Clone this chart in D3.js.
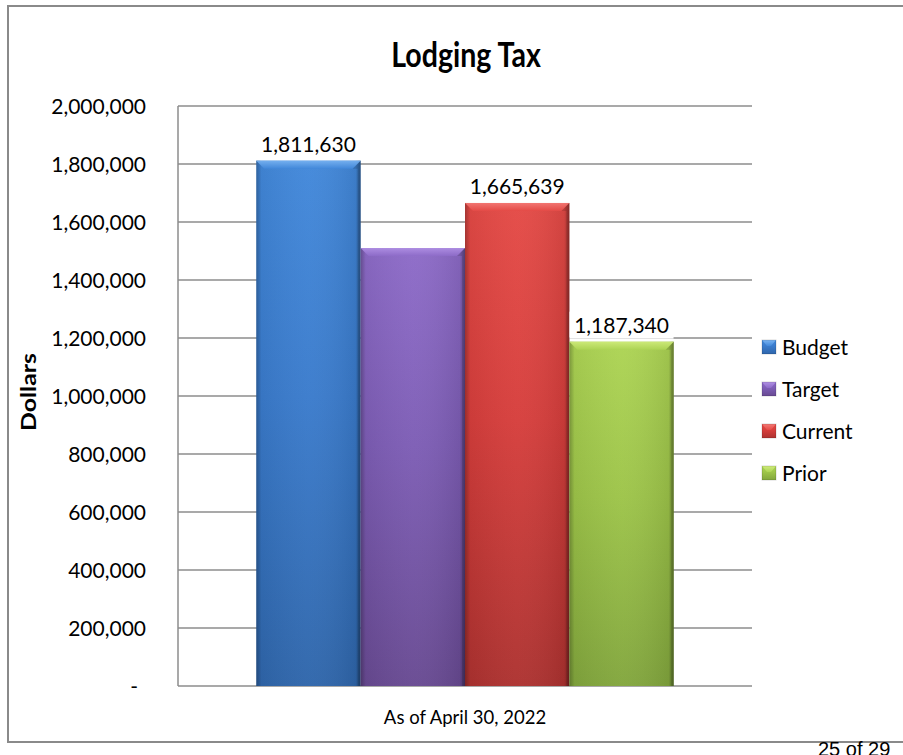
<!DOCTYPE html>
<html>
<head>
<meta charset="utf-8">
<script src="https://cdn.jsdelivr.net/npm/d3@7"></script>
<style>
  html, body { margin: 0; padding: 0; background: #fff; }
  svg { display: block; }
  text { font-family: Lato, "Open Sans", "Noto Sans", sans-serif; fill: #000; }
</style>
</head>
<body>
<svg id="chart" width="903" height="755"></svg>
<script>
// Lodging tax collections, as of April 30, 2022
const category = "As of April 30, 2022";
const seriesNames = ["Budget", "Target", "Current", "Prior"];
const seriesValues = [1811630, 1510000, 1665639, 1187340];
const showLabel = [true, false, true, true];
const yTicks = [0, 200000, 400000, 600000, 800000, 1000000, 1200000, 1400000, 1600000, 1800000, 2000000];

// fill tones for each series: highlight, top, middle, bottom
const palette = {
  Budget:  { hi: "#7ab4f2", top: "#4288da", mid: "#3a7bcc", bot: "#2f66ab" },
  Target:  { hi: "#b090e4", top: "#8d6bc8", mid: "#7d5db5", bot: "#684a92" },
  Current: { hi: "#f47a76", top: "#e44a46", mid: "#d63e3c", bot: "#ad3230" },
  Prior:   { hi: "#d0ec7c", top: "#add454", mid: "#9dc449", bot: "#82a63d" }
};

const svg = d3.select("#chart");
const defs = svg.append("defs");

const plot = { left: 178, right: 752, top: 106, bottom: 686 };

const y = d3.scaleLinear().domain([0, 2000000]).range([plot.bottom, plot.top]);
const x0 = d3.scaleBand().domain([category]).range([plot.left, plot.right])
  .paddingInner(0).paddingOuter(0.1875);
const x1 = d3.scaleBand().domain(seriesNames).range([0, x0.bandwidth()]).padding(0);

// gradients
seriesNames.forEach((s, i) => {
  const c = palette[s];
  const g = defs.append("linearGradient").attr("id", "v" + i)
    .attr("x1", 0).attr("y1", 0).attr("x2", 0).attr("y2", 1);
  g.append("stop").attr("offset", "0%").attr("stop-color", c.top);
  g.append("stop").attr("offset", "45%").attr("stop-color", c.mid);
  g.append("stop").attr("offset", "100%").attr("stop-color", c.bot);
  const h = defs.append("linearGradient").attr("id", "hi" + i)
    .attr("x1", 0).attr("y1", 0).attr("x2", 0).attr("y2", 1);
  h.append("stop").attr("offset", "0%").attr("stop-color", c.hi);
  h.append("stop").attr("offset", "100%").attr("stop-color", c.top);
});
const edge = defs.append("linearGradient").attr("id", "edge")
  .attr("x1", 0).attr("y1", 0).attr("x2", 1).attr("y2", 0);
edge.append("stop").attr("offset", "0%").attr("stop-color", "#000").attr("stop-opacity", 0.28);
edge.append("stop").attr("offset", "5%").attr("stop-color", "#000").attr("stop-opacity", 0.05);
edge.append("stop").attr("offset", "50%").attr("stop-color", "#fff").attr("stop-opacity", 0.03);
edge.append("stop").attr("offset", "95%").attr("stop-color", "#000").attr("stop-opacity", 0.08);
edge.append("stop").attr("offset", "100%").attr("stop-color", "#000").attr("stop-opacity", 0.35);

// outer chart border
svg.append("rect").attr("x", 8).attr("y", 6).attr("width", 920).attr("height", 736)
  .attr("fill", "none").attr("stroke", "#8a8a8a").attr("stroke-width", 2);

// title, slightly condensed
svg.append("text").attr("transform", "translate(466, 67) scale(0.84, 1)")
  .attr("text-anchor", "middle")
  .style("font-size", "34px").style("font-weight", "bold").text("Lodging Tax");

// gridlines
svg.append("g").selectAll("line").data(yTicks).join("line")
  .attr("x1", plot.left).attr("x2", plot.right)
  .attr("y1", d => y(d)).attr("y2", d => y(d))
  .attr("stroke", "#8c8c8c").attr("stroke-width", 1.3);

// vertical axis line
svg.append("line").attr("x1", plot.left).attr("x2", plot.left)
  .attr("y1", plot.top).attr("y2", plot.bottom)
  .attr("stroke", "#8c8c8c").attr("stroke-width", 1.5);

// y tick labels
const fmt = d3.format(",");
svg.append("g").selectAll("text").data(yTicks).join("text")
  .attr("x", d => d === 0 ? 138 : 146).attr("y", d => y(d)).attr("dy", "0.36em")
  .attr("text-anchor", "end").style("font-size", "21px")
  .text(d => d === 0 ? "-" : fmt(d));

// y axis title
svg.append("text").attr("transform", `translate(36, ${(plot.top + plot.bottom) / 2 - 4}) rotate(-90)`)
  .attr("text-anchor", "middle").style("font-size", "21px").style("font-weight", "bold")
  .attr("textLength", 78).attr("lengthAdjust", "spacingAndGlyphs")
  .text("Dollars");

// bars
const data = seriesNames.map((s, i) => ({ s, i, v: seriesValues[i], label: showLabel[i] }));
const bars = svg.append("g").attr("transform", `translate(${x0(category)},0)`);
const bar = bars.selectAll("g").data(data).join("g");
const bw = x1.bandwidth();
bar.append("rect")
  .attr("x", d => x1(d.s)).attr("y", d => y(d.v))
  .attr("width", bw).attr("height", d => y(0) - y(d.v))
  .attr("fill", d => `url(#v${d.i})`);
bar.append("rect")
  .attr("x", d => x1(d.s)).attr("y", d => y(d.v))
  .attr("width", bw).attr("height", d => y(0) - y(d.v))
  .attr("fill", "url(#edge)");
// bevelled top face
bar.append("path")
  .attr("d", d => {
    const xl = x1(d.s), xr = xl + bw, yt = y(d.v), b = 8;
    return `M${xl},${yt} L${xr},${yt} L${xr - b},${yt + b} L${xl + b},${yt + b} Z`;
  })
  .attr("fill", d => `url(#hi${d.i})`).attr("opacity", 0.9);
bar.append("path")
  .attr("d", d => {
    const xl = x1(d.s), xr = xl + bw, yt = y(d.v), b = 8;
    return `M${xr},${yt} L${xr},${y(0)} L${xr - 3},${y(0)} L${xr - 3},${yt + b} L${xr - b},${yt + b} Z`;
  })
  .attr("fill", "#000").attr("opacity", 0.12);

// value labels with white backing
const lab = bars.selectAll("g.lab").data(data.filter(d => d.label)).join("g").attr("class", "lab");
lab.append("rect")
  .attr("x", d => x1(d.s) + bw / 2 - 52).attr("y", d => y(d.v) - 30)
  .attr("width", 104).attr("height", 27).attr("fill", "#fff");
lab.append("text")
  .attr("x", d => x1(d.s) + bw / 2).attr("y", d => y(d.v) - 9)
  .attr("text-anchor", "middle").style("font-size", "21px")
  .text(d => fmt(d.v));

// category label
svg.append("text").attr("x", x0(category) + x0.bandwidth() / 2).attr("y", 724)
  .attr("text-anchor", "middle").style("font-size", "18.5px").text(category);

// legend
const leg = svg.append("g").selectAll("g").data(data).join("g")
  .attr("transform", (d, i) => `translate(762, ${347 + i * 42})`);
leg.append("rect").attr("x", 0).attr("y", -7).attr("width", 14).attr("height", 14)
  .attr("fill", d => `url(#v${d.i})`);
leg.append("path").attr("d", "M0,-7 L14,-7 L9,-1 L5,-1 Z")
  .attr("fill", d => `url(#hi${d.i})`);
leg.append("rect").attr("x", 0).attr("y", -7).attr("width", 14).attr("height", 14)
  .attr("fill", "none").attr("stroke", "#000").attr("stroke-opacity", 0.15);
leg.append("text").attr("x", 20).attr("y", 0).attr("dy", "0.36em")
  .style("font-size", "21px").text(d => d.s);

// page number
svg.append("text").attr("x", 818).attr("y", 756)
  .style("font-family", "'Liberation Sans', Arial, sans-serif").style("font-size", "20px")
  .text("25 of 29");
</script>
</body>
</html>
